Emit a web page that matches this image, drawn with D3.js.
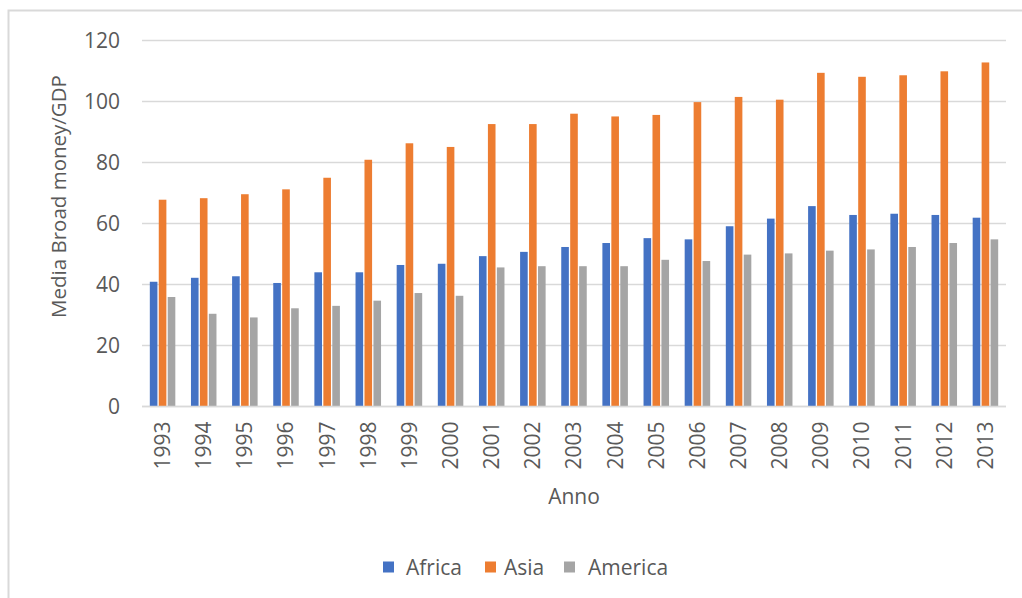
<!DOCTYPE html>
<html>
<head>
<meta charset="utf-8">
<script src="https://cdn.jsdelivr.net/npm/d3@7"></script>
<style>
  html, body { margin: 0; padding: 0; background: #fff; }
  svg { display: block; }
  text { font-family: "Open Sans", "Noto Sans", sans-serif; fill: #595959; }
</style>
</head>
<body>
<svg id="chart" width="1022" height="598"></svg>
<script>
// Years on the category axis
const years = ["1993","1994","1995","1996","1997","1998","1999","2000","2001","2002",
               "2003","2004","2005","2006","2007","2008","2009","2010","2011","2012","2013"];

// Average broad money / GDP by region
const africa  = [40.9, 42.2, 42.7, 40.5, 44.0, 44.0, 46.4, 46.8, 49.3, 50.7,
                 52.3, 53.6, 55.2, 54.8, 59.1, 61.6, 65.7, 62.8, 63.2, 62.8, 61.9];
const asia    = [67.8, 68.3, 69.6, 71.2, 75.0, 80.9, 86.3, 85.1, 92.6, 92.6,
                 96.0, 95.1, 95.6, 99.8, 101.5, 100.6, 109.4, 108.1, 108.6, 109.9, 112.8];
const america = [35.9, 30.4, 29.2, 32.2, 33.0, 34.7, 37.2, 36.3, 45.6, 46.0,
                 46.0, 46.0, 48.1, 47.7, 49.8, 50.2, 51.1, 51.5, 52.3, 53.6, 54.8];

const seriesNames = ["Africa", "Asia", "America"];
const seriesValues = [africa, asia, america];
const colors = ["#4472C4", "#ED7D31", "#A5A5A5"];
const yTicks = [0, 20, 40, 60, 80, 100, 120];

const svg = d3.select("#chart");

// Chart area frame
svg.append("rect")
  .attr("x", 8.5).attr("y", 10.5)
  .attr("width", 1100).attr("height", 700)
  .attr("fill", "none").attr("stroke", "#d9d9d9").attr("stroke-width", 2);

const plot = { left: 142, right: 1006, top: 40.5, bottom: 406.5 };

const y = d3.scaleLinear().domain([0, 120]).range([plot.bottom, plot.top]);

const gap = 0.38;
const x0 = d3.scaleBand().domain(years)
  .range([plot.left, plot.right])
  .paddingInner(gap).paddingOuter(gap / 2);

const x1 = d3.scaleBand().domain(seriesNames)
  .range([0, x0.bandwidth()])
  .paddingInner(0.15);

// Horizontal gridlines
svg.append("g")
  .selectAll("line")
  .data(yTicks)
  .join("line")
  .attr("x1", plot.left).attr("x2", plot.right)
  .attr("y1", d => y(d)).attr("y2", d => y(d))
  .attr("stroke", "#d9d9d9").attr("stroke-width", 1.5);

// Y axis labels
const yAxis = d3.axisLeft(y).tickValues(yTicks).tickSize(0).tickPadding(0);
svg.append("g")
  .attr("transform", `translate(${plot.left - 22},0)`)
  .call(yAxis)
  .call(g => g.select(".domain").remove())
  .selectAll("text")
  .attr("font-size", 21)
  .attr("fill", "#595959")
  .style("font-family", '"Open Sans", sans-serif');

// Bars
const groups = svg.append("g")
  .selectAll("g")
  .data(years)
  .join("g")
  .attr("transform", d => `translate(${x0(d)},0)`);

groups.selectAll("rect")
  .data((d, i) => seriesNames.map((s, k) => ({ s, v: seriesValues[k][i], c: colors[k] })))
  .join("rect")
  .attr("x", d => x1(d.s))
  .attr("width", x1.bandwidth())
  .attr("y", d => y(d.v))
  .attr("height", d => y(0) - y(d.v))
  .attr("fill", d => d.c);

// X axis baseline
svg.append("line")
  .attr("x1", plot.left).attr("x2", plot.right)
  .attr("y1", y(0)).attr("y2", y(0))
  .attr("stroke", "#d9d9d9").attr("stroke-width", 1.5);

// X axis labels (rotated)
const xAxis = d3.axisBottom(x0).tickSize(0).tickPadding(0);
svg.append("g")
  .attr("transform", `translate(0,${plot.bottom})`)
  .call(xAxis)
  .call(g => g.select(".domain").remove())
  .selectAll("text")
  .attr("font-size", 21)
  .attr("fill", "#595959")
  .style("font-family", '"Open Sans", sans-serif')
  .attr("text-anchor", "end")
  .attr("dy", "0.35em")
  .attr("transform", "translate(0,15) rotate(-90)")
  .attr("x", 0).attr("y", 0);

// Axis titles
svg.append("text")
  .attr("transform", `translate(59,${(plot.top + plot.bottom) / 2 - 27}) rotate(-90)`)
  .attr("text-anchor", "middle")
  .attr("dy", "0.35em")
  .attr("font-size", 20.5)
  .text("Media Broad money/GDP");

svg.append("text")
  .attr("x", 574).attr("y", 497)
  .attr("text-anchor", "middle")
  .attr("dy", "0.35em")
  .attr("font-size", 21)
  .text("Anno");

// Legend
const legendItems = [
  { name: "Africa", sx: 383, tx: 406 },
  { name: "Asia", sx: 485, tx: 504 },
  { name: "America", sx: 564, tx: 588 }
];
const legend = svg.append("g");
legendItems.forEach((d, i) => {
  legend.append("rect")
    .attr("x", d.sx).attr("y", 561.5)
    .attr("width", 11).attr("height", 11)
    .attr("fill", colors[i]);
  legend.append("text")
    .attr("x", d.tx).attr("y", 567.5)
    .attr("dy", "0.35em")
    .attr("font-size", 21)
    .text(d.name);
});
</script>
</body>
</html>
